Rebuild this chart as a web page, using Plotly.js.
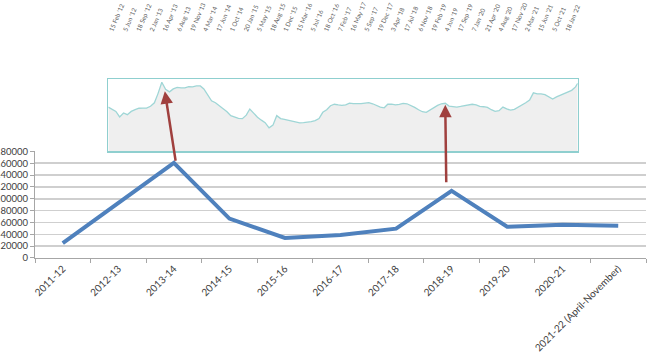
<!DOCTYPE html>
<html>
<head>
<meta charset="utf-8">
<script src="https://cdn.plot.ly/plotly-3.0.1.min.js"></script>
<style>
  html, body { margin: 0; padding: 0; background: #ffffff; }
  #chart { width: 648px; height: 357px; }
</style>
</head>
<body>
<div id="chart"></div>
<script>
// Main series
var years = ["2011-12", "2012-13", "2013-14", "2014-15", "2015-16", "2016-17",
             "2017-18", "2018-19", "2019-20", "2020-21", "2021-22 (April-November)"];
var yearValues = [25300, 92500, 160500, 66500, 33800, 39000, 49500, 113500, 52800, 56000, 54500];

// Inset (index series, peak = 100)
var insetDates = [
  "2012-02-01","2012-03-01","2012-04-01","2012-05-01","2012-06-01","2012-07-01","2012-08-01","2012-09-01","2012-10-01","2012-11-01","2012-12-01",
  "2013-01-01","2013-02-01","2013-03-01","2013-04-01","2013-05-01","2013-06-01","2013-07-01","2013-08-01","2013-09-01","2013-10-01","2013-11-01","2013-12-01",
  "2014-01-01","2014-02-01","2014-03-01","2014-04-01","2014-05-01","2014-06-01","2014-07-01","2014-08-01","2014-09-01","2014-10-01","2014-11-01","2014-12-01",
  "2015-01-01","2015-02-01","2015-03-01","2015-04-01","2015-05-01","2015-06-01","2015-07-01","2015-08-01","2015-09-01","2015-10-01","2015-11-01","2015-12-01",
  "2016-01-01","2016-02-01","2016-03-01","2016-04-01","2016-05-01","2016-06-01","2016-07-01","2016-08-01","2016-09-01","2016-10-01","2016-11-01","2016-12-01",
  "2017-01-01","2017-02-01","2017-03-01","2017-04-01","2017-05-01","2017-06-01","2017-07-01","2017-08-01","2017-09-01","2017-10-01","2017-11-01","2017-12-01",
  "2018-01-01","2018-02-01","2018-03-01","2018-04-01","2018-05-01","2018-06-01","2018-07-01","2018-08-01","2018-09-01","2018-10-01","2018-11-01","2018-12-01",
  "2019-01-01","2019-02-01","2019-03-01","2019-04-01","2019-05-01","2019-06-01","2019-07-01","2019-08-01","2019-09-01","2019-10-01","2019-11-01","2019-12-01",
  "2020-01-01","2020-02-01","2020-03-01","2020-04-01","2020-05-01","2020-06-01","2020-07-01","2020-08-01","2020-09-01","2020-10-01","2020-11-01","2020-12-01",
  "2021-01-01","2021-02-01","2021-03-01","2021-04-01","2021-05-01","2021-06-01","2021-07-01","2021-08-01","2021-09-01","2021-10-01","2021-11-01","2021-12-01",
  "2022-01-01","2022-02-01","2022-03-01","2022-04-01","2022-04-18"
];
var insetValues = [
  64.1,61.1,57.8,49.8,55.5,53.1,57.8,60.3,62.4,62.7,62.7,
  65.3,70.3,83.2,100,89.7,86.1,90.4,92.6,91.8,91.8,93.7,93.3,
  94.7,94.7,90.4,81.1,73.2,70.3,66.0,61.3,57.4,51.7,49.2,47.8,
  47.4,52.4,61.3,54.8,49.4,45.2,41.6,34.0,38.0,51.7,47.4,46.4,
  45.2,43.3,42.0,41.3,41.6,42.0,43.0,44.5,47.4,56.5,60.3,66.0,
  68.2,67.2,66.7,67.4,69.9,69.2,68.9,69.2,69.9,70.6,68.9,66.0,
  64.1,63.1,68.2,68.3,67.4,68.0,69.5,68.9,66.6,63.7,60.3,57.4,
  56.5,60.3,63.6,66.6,68.9,69.6,65.6,64.6,64.1,65.0,66.0,67.2,
  68.2,67.2,65.1,64.6,63.6,60.3,57.8,58.8,64.1,61.4,59.6,60.7,
  63.6,66.6,70.3,74.2,84.7,83.2,83.2,82.1,78.9,75.8,78.9,81.5,
  83.5,86.1,88.3,93.3,98.6
];
var insetTickDates = [
  "2012-02-15","2012-06-05","2012-09-18","2013-01-02","2013-04-16","2013-08-06","2013-11-19",
  "2014-03-04","2014-06-17","2014-10-01","2015-01-20","2015-05-05","2015-08-18","2015-12-01",
  "2016-03-15","2016-07-05","2016-10-18","2017-02-07","2017-05-16","2017-09-05","2017-12-19",
  "2018-04-03","2018-07-17","2018-11-06","2019-02-19","2019-06-04","2019-09-17","2020-01-07",
  "2020-04-21","2020-08-04","2020-11-17","2021-03-02","2021-06-15","2021-10-05","2022-01-18"
];
var insetTickLabels = [
  "15 Feb '12","5 Jun '12","18 Sep '12","2 Jan '13","16 Apr '13","6 Aug '13","19 Nov '13",
  "4 Mar '14","17 Jun '14","1 Oct '14","20 Jan '15","5 May '15","18 Aug '15","1 Dec '15",
  "15 Mar '16","5 Jul '16","18 Oct '16","7 Feb '17","16 May '17","5 Sep '17","19 Dec '17",
  "3 Apr '18","17 Jul '18","6 Nov '18","19 Feb '19","4 Jun '19","17 Sep '19","7 Jan '20",
  "21 Apr '20","4 Aug '20","17 Nov '20","2 Mar '21","15 Jun '21","5 Oct '21","18 Jan '22"
];

var mainTrace = {
  x: years, y: yearValues, type: "scatter", mode: "lines",
  line: {color: "#4f81bd", width: 4},
  xaxis: "x", yaxis: "y", hoverinfo: "skip"
};
var insetTrace = {
  x: insetDates, y: insetValues, type: "scatter", mode: "lines",
  fill: "tozeroy", fillcolor: "#efefef",
  line: {color: "#9fd6d6", width: 1.3},
  xaxis: "x2", yaxis: "y2", hoverinfo: "skip"
};

var layout = {
  width: 648, height: 357,
  margin: {l: 35, r: 2, t: 79, b: 99},
  paper_bgcolor: "#ffffff", plot_bgcolor: "rgba(0,0,0,0)",
  showlegend: false,
  font: {family: "Lato, 'Open Sans', sans-serif", color: "#404040", size: 10},
  xaxis: {
    domain: [0, 1], anchor: "y", type: "category",
    range: [-0.5, 10.5], tickson: "boundaries",
    ticks: "outside", ticklen: 4, tickcolor: "#a6a6a6",
    showline: true, linecolor: "#a6a6a6", linewidth: 1,
    showgrid: false, tickangle: -45,
    tickfont: {size: 10, color: "#404040"}
  },
  yaxis: {
    domain: [0, 0.5955], anchor: "x",
    range: [0, 180000], dtick: 20000, tick0: 0, tickformat: "d",
    showgrid: true, gridcolor: "#cfcfcf", gridwidth: 1.5,
    zeroline: false, showline: true, linecolor: "#a6a6a6",
    ticks: "outside", ticklen: 4, tickcolor: "#a6a6a6",
    tickfont: {size: 9.5, color: "#404040"}, automargin: false
  },
  xaxis2: {
    domain: [0.12, 0.8882], anchor: "y2", type: "date", side: "top",
    range: ["2012-02-01", "2022-04-18"],
    tickmode: "array", tickvals: insetTickDates, ticktext: insetTickLabels,
    tickangle: -67, ticks: "", ticklabelstandoff: 41,
    tickfont: {size: 6.3, color: "#606060"},
    showgrid: false, zeroline: false,
    showline: true, mirror: true, linecolor: "#8fcfcf", linewidth: 1.5
  },
  yaxis2: {
    domain: [0.5955, 1], anchor: "x2",
    range: [0, 104.7], showticklabels: false, ticks: "",
    showgrid: false, zeroline: false,
    showline: true, mirror: true, linecolor: "#8fcfcf", linewidth: 1.5
  },
  annotations: [
    {xref: "x2", yref: "y2", x: "2013-04-25", y: 87, ax: 11, ay: 71,
     showarrow: true, arrowhead: 2, arrowsize: 1, arrowwidth: 2.5, arrowcolor: "#a0403e", text: ""},
    {xref: "x2", yref: "y2", x: "2019-06-01", y: 67.4, ax: 1, ay: 79,
     showarrow: true, arrowhead: 2, arrowsize: 1, arrowwidth: 2.5, arrowcolor: "#a0403e", text: ""}
  ]
};

Plotly.newPlot("chart", [mainTrace, insetTrace], layout, {staticPlot: true, displayModeBar: false});
</script>
</body>
</html>
